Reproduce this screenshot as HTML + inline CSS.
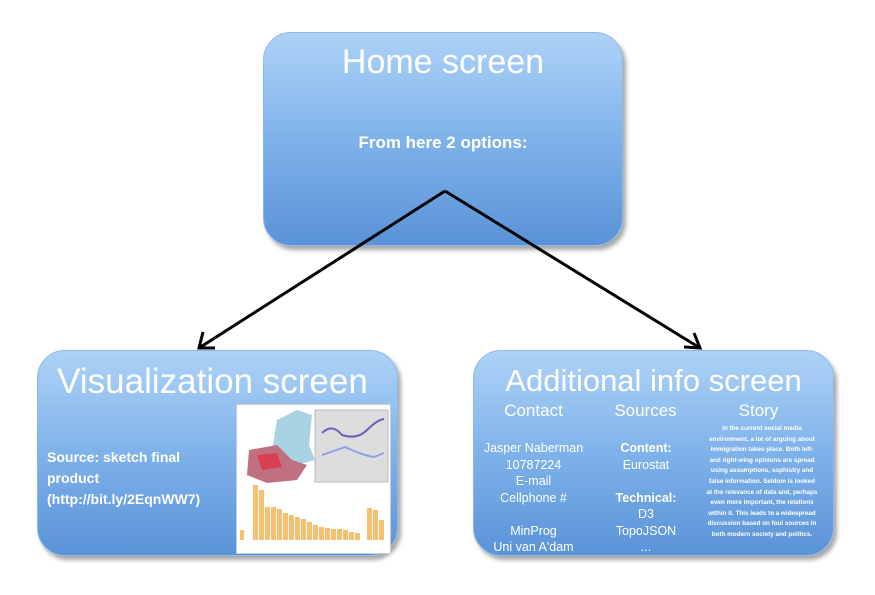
<!DOCTYPE html>
<html><head><style>
body{margin:0;width:875px;height:595px;background:#fff;position:relative;overflow:hidden;font-family:"Liberation Sans",sans-serif;color:#fff}
.box{position:absolute;border-radius:28px;background:linear-gradient(#aed2f7,#7fb2ea 50%,#5a93d8);box-shadow:3px 4px 4px rgba(0,0,0,.35);border:1px solid #8fb9e8}
.t{position:absolute;width:100%;text-align:center}
.s{position:absolute;font-size:12.5px;text-align:center;line-height:16.5px}
</style></head><body>
<div class="box" style="left:263px;top:32px;width:358px;height:212px">
 <div class="t" style="top:10px;font-size:34px">Home screen</div>
 <div class="t" style="top:100px;font-size:17px;font-weight:bold">From here 2 options:</div>
</div>
<div class="box" style="left:37px;top:350px;width:359px;height:204px">
 <div class="t" style="top:11px;font-size:35px;left:-5px">Visualization screen</div>
 <div style="position:absolute;left:9px;top:96px;font-size:14px;font-weight:bold;line-height:21px">Source: sketch final<br>product<br>(http://bit.ly/2EqnWW7)</div>
 <div style="position:absolute;left:198px;top:53px;width:153px;height:148px;background:#fff;border:1px solid #ccc">
  <svg width="153" height="148">
   <path d="M40 15 L60 5 L75 10 L72 40 L78 55 L60 60 L35 45 Z" fill="#a9d3e3"/>
   <path d="M12 45 L40 40 L55 55 L70 60 L60 75 L30 78 L10 70 Z" fill="#c07080"/>
   <path d="M20 50 L40 48 L45 62 L25 65 Z" fill="#d84050"/>
   <rect x="78" y="5" width="73" height="72" fill="#ddd" stroke="#bbb"/>
   <path d="M85 28 Q95 18 105 30 Q120 35 130 25 T147 14" stroke="#6a60c0" stroke-width="2" fill="none"/>
   <path d="M85 50 Q100 45 108 42 Q125 50 137 52 L147 48" stroke="#8aa0e8" stroke-width="2" fill="none"/>
   <g fill="#f5c070">
    <rect x="16" y="80" width="5" height="55"/><rect x="22" y="85" width="5" height="50"/><rect x="28" y="102" width="5" height="33"/><rect x="34" y="102" width="5" height="33"/><rect x="40" y="104" width="5" height="31"/><rect x="46" y="108" width="5" height="27"/><rect x="52" y="110" width="5" height="25"/><rect x="58" y="112" width="5" height="23"/><rect x="64" y="114" width="5" height="21"/><rect x="70" y="117" width="5" height="18"/><rect x="76" y="120" width="5" height="15"/><rect x="82" y="122" width="5" height="13"/><rect x="88" y="123" width="5" height="12"/><rect x="94" y="124" width="5" height="11"/><rect x="100" y="124" width="5" height="11"/><rect x="106" y="125" width="5" height="10"/><rect x="112" y="127" width="5" height="8"/><rect x="118" y="128" width="5" height="7"/><rect x="130" y="103" width="5" height="32"/><rect x="136" y="105" width="5" height="30"/><rect x="142" y="115" width="5" height="20"/><rect x="3" y="125" width="4" height="10"/>
   </g>
  </svg>
 </div>
</div>
<div class="box" style="left:473px;top:350px;width:359px;height:204px">
 <div class="t" style="top:12px;font-size:31px">Additional info screen</div>
 <div class="t" style="top:50px;font-size:17px;left:-120px">Contact</div>
 <div class="t" style="top:50px;font-size:17px;left:-8px">Sources</div>
 <div class="t" style="top:50px;font-size:17px;left:105px">Story</div>
 <div class="s" style="left:0;width:119px;top:89px">Jasper Naberman<br>10787224<br>E-mail<br>Cellphone #<br><br>MinProg<br>Uni van A'dam</div>
 <div class="s" style="left:120px;width:104px;top:89px"><b>Content:</b><br>Eurostat<br><br><b>Technical:</b><br>D3<br>TopoJSON<br>...</div>
 <div class="s" style="left:232px;width:112px;top:73px;font-size:6.3px;line-height:10.6px;font-weight:bold">In the current social media environment, a lot of arguing about immigration takes place. Both left- and right-wing opinions are spread using assumptions, sophistry and false information. Seldom is looked at the relevance of data and, perhaps even more important, the relations within it. This leads to a widespread discussion based on foul sources in both modern society and politics.</div>
</div>
<svg style="position:absolute;left:0;top:0" width="875" height="595">
 <g stroke="#000" stroke-width="3" fill="none">
 <line x1="445" y1="191" x2="199" y2="348"/>
 <line x1="445" y1="191" x2="700" y2="348"/>
 <path d="M203 332 L199 348 L215 348"/>
 <path d="M684 347 L700 348 L694 333"/>
 </g>
</svg>
</body></html>
